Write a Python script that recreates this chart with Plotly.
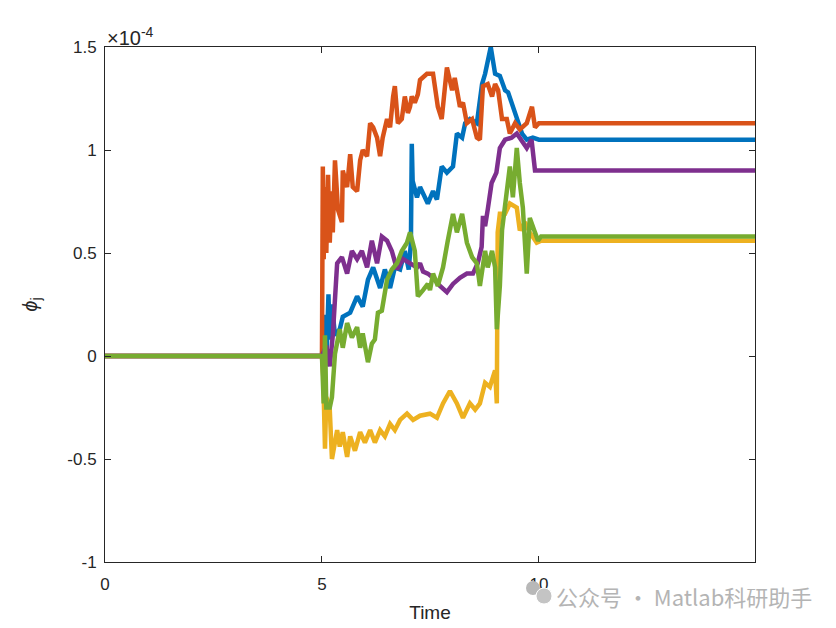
"""phi_j vs time, five sample paths (MATLAB default colour order)."""

import plotly.graph_objects as go

# values are in units of 1e-4
t_blue = [0, 5.0, 5.05, 5.1, 5.15, 5.18, 5.23, 5.3, 5.41, 5.48, 5.65, 5.81, 5.94, 6.06,
          6.18, 6.34, 6.45, 6.57, 6.68, 6.8, 6.91, 7.0, 7.05, 7.07, 7.09, 7.19, 7.26,
          7.37, 7.44, 7.56, 7.65, 7.76, 7.88, 8.02, 8.11, 8.23, 8.3, 8.41, 8.57, 8.69,
          8.76, 8.89, 8.99, 9.1, 9.22, 9.29, 9.4, 9.49, 9.61, 9.72, 9.86, 10.0, 15.0]
v_blue = [0, 0, 0.2, -0.05, 0.3, 0.08, 0.25, 0.1, 0.13, 0.19, 0.21, 0.29, 0.24, 0.37,
          0.43, 0.33, 0.42, 0.33, 0.43, 0.42, 0.51, 0.42, 0.55, 1.03, 0.85, 0.77, 0.82,
          0.77, 0.74, 0.8, 0.76, 0.92, 0.89, 0.92, 1.08, 1.06, 1.13, 1.15, 1.13, 1.32,
          1.37, 1.5, 1.37, 1.36, 1.29, 1.28, 1.21, 1.16, 1.08, 1.05, 1.06, 1.05, 1.05]

t_orange = [0, 5.0, 5.02, 5.04, 5.07, 5.1, 5.14, 5.18, 5.22, 5.25, 5.3, 5.37, 5.46, 5.48,
            5.58, 5.65, 5.71, 5.81, 5.88, 5.94, 6.04, 6.11, 6.18, 6.27, 6.34, 6.4, 6.5,
            6.57, 6.64, 6.68, 6.75, 6.84, 6.91, 6.98, 7.03, 7.07, 7.14, 7.21, 7.26, 7.42,
            7.56, 7.67, 7.76, 7.88, 8.0, 8.06, 8.18, 8.25, 8.34, 8.46, 8.57, 8.64, 8.71,
            8.82, 8.92, 8.99, 9.06, 9.15, 9.26, 9.33, 9.45, 9.56, 9.72, 9.84, 9.91, 10.0, 15.0]
v_orange = [0, 0, 0.92, 0.47, 0.82, 0.5, 0.88, 0.55, 0.8, 0.6, 0.95, 0.71, 0.65, 0.9,
            0.82, 0.98, 0.82, 0.8, 0.95, 1.0, 0.97, 1.13, 1.11, 1.06, 0.97, 1.06, 1.15,
            1.11, 1.26, 1.31, 1.13, 1.15, 1.26, 1.18, 1.21, 1.26, 1.23, 1.27, 1.34, 1.37,
            1.37, 1.21, 1.15, 1.4, 1.29, 1.35, 1.21, 1.23, 1.13, 1.15, 1.06, 1.05, 1.31,
            1.32, 1.26, 1.32, 1.29, 1.15, 1.15, 1.08, 1.13, 1.1, 1.13, 1.21, 1.11, 1.13, 1.13]

t_yellow = [0, 5.0, 5.03, 5.07, 5.1, 5.18, 5.23, 5.35, 5.41, 5.48, 5.58, 5.65, 5.76, 5.88,
            5.99, 6.11, 6.22, 6.34, 6.45, 6.57, 6.68, 6.8, 6.96, 7.1, 7.26, 7.42, 7.49,
            7.65, 7.79, 7.95, 8.11, 8.25, 8.41, 8.53, 8.64, 8.76, 8.87, 8.99, 9.03, 9.05,
            9.1, 9.22, 9.33, 9.49, 9.56, 9.68, 9.79, 9.95, 10.05, 15.0]
v_yellow = [0, 0, -0.1, -0.45, -0.2, -0.26, -0.5, -0.36, -0.44, -0.37, -0.49, -0.39, -0.46,
            -0.37, -0.42, -0.36, -0.42, -0.36, -0.39, -0.33, -0.36, -0.31, -0.28, -0.31,
            -0.29, -0.28, -0.28, -0.3, -0.23, -0.17, -0.23, -0.3, -0.23, -0.26, -0.23,
            -0.13, -0.15, -0.07, -0.23, 0.6, 0.69, 0.69, 0.74, 0.72, 0.61, 0.65, 0.6, 0.55,
            0.56, 0.56]

t_purple = [0, 5.0, 5.1, 5.18, 5.25, 5.35, 5.46, 5.58, 5.69, 5.81, 5.92, 6.04, 6.15, 6.27,
            6.38, 6.5, 6.61, 6.73, 6.87, 7.03, 7.19, 7.26, 7.33, 7.44, 7.56, 7.72, 7.88,
            8.02, 8.18, 8.34, 8.48, 8.59, 8.68, 8.71, 8.76, 8.82, 8.91, 9.02, 9.1, 9.22,
            9.37, 9.49, 9.6, 9.72, 9.83, 9.91, 15.0]
v_purple = [0, 0, 0.05, -0.05, 0.1, 0.45, 0.48, 0.4, 0.51, 0.47, 0.51, 0.43, 0.56, 0.45,
            0.58, 0.56, 0.51, 0.42, 0.47, 0.45, 0.43, 0.45, 0.41, 0.4, 0.38, 0.34, 0.31,
            0.35, 0.38, 0.4, 0.4, 0.45, 0.53, 0.68, 0.63, 0.71, 0.84, 0.89, 1.01, 1.05,
            1.06, 1.08, 1.05, 1.01, 1.05, 0.9, 0.9]

t_green = [0, 5.0, 5.04, 5.07, 5.1, 5.18, 5.23, 5.3, 5.41, 5.48, 5.58, 5.69, 5.81, 5.88,
           5.94, 6.06, 6.15, 6.22, 6.29, 6.38, 6.5, 6.61, 6.73, 6.84, 6.96, 7.03, 7.14,
           7.21, 7.33, 7.44, 7.49, 7.56, 7.67, 7.79, 7.9, 8.02, 8.11, 8.23, 8.34, 8.46,
           8.57, 8.64, 8.76, 8.82, 8.92, 8.99, 9.03, 9.1, 9.15, 9.22, 9.29, 9.33, 9.4,
           9.49, 9.56, 9.63, 9.72, 9.79, 9.91, 9.98, 10.05, 15.0]
v_green = [0, 0, -0.23, 0.1, -0.25, -0.25, -0.2, 0.01, 0.13, 0.04, 0.16, 0.09, 0.14, 0.04,
           0.11, -0.03, 0.06, 0.08, 0.21, 0.22, 0.37, 0.42, 0.45, 0.51, 0.55, 0.6, 0.51,
           0.29, 0.32, 0.35, 0.32, 0.4, 0.34, 0.43, 0.56, 0.69, 0.6, 0.69, 0.55, 0.48,
           0.45, 0.34, 0.51, 0.43, 0.51, 0.43, 0.13, 0.34, 0.61, 0.74, 0.87, 0.92, 0.77,
           1.01, 0.84, 0.72, 0.4, 0.67, 0.6, 0.56, 0.58, 0.58]

series = [
    (t_blue, v_blue, "#0072BD"),
    (t_orange, v_orange, "#D95319"),
    (t_yellow, v_yellow, "#EDB120"),
    (t_purple, v_purple, "#7E2F8E"),
    (t_green, v_green, "#77AC30"),
]

x_ticks = [0, 5, 10]
y_ticks = [-1, -0.5, 0, 0.5, 1, 1.5]
y_tick_text = ["-1", "-0.5", "0", "0.5", "1", "1.5"]

_AX = "#262626"
_FONT = "Liberation Sans, Arial, sans-serif"

fig = go.Figure()
for t, v, c in series:
    fig.add_trace(go.Scatter(x=t, y=v, mode="lines",
                             line=dict(color=c, width=4.5), showlegend=False))

axis_common = dict(showline=True, linecolor=_AX, linewidth=1, mirror="ticks",
                   ticks="inside", ticklen=6, tickcolor=_AX, showgrid=False,
                   zeroline=False, tickfont=dict(size=17, color=_AX, family=_FONT))

# the page body adds an 8px offset, so margins are trimmed by 8 on left/top
fig.update_layout(
    width=836, height=628,
    margin=dict(l=97, r=89, t=39, b=74),
    paper_bgcolor="white", plot_bgcolor="white",
    font=dict(family=_FONT, color=_AX),
    xaxis=dict(range=[0, 14.98], tickvals=x_ticks, ticklabelstandoff=7,
               title=dict(text="Time", font=dict(size=19, color=_AX), standoff=12),
               **axis_common),
    yaxis=dict(range=[-1, 1.5], tickvals=y_ticks, ticktext=y_tick_text,
               ticklabelstandoff=4,
               title=dict(text="<i>ϕ</i><sub>j</sub>", font=dict(size=20, color=_AX),
                          standoff=24),
               **axis_common),
)

fig.add_annotation(x=0, y=1, xref="paper", yref="paper", xanchor="left", yanchor="bottom",
                   text="×10<sup>-4</sup>", showarrow=False, yshift=-4,
                   font=dict(size=20, color=_AX))

# watermark
fig.add_shape(type="circle", xref="paper", yref="paper", x0=0.6477, x1=0.6692,
              y0=-0.0641, y1=-0.0369, fillcolor="#b8b8b8", line_width=0)
fig.add_shape(type="circle", xref="paper", yref="paper", x0=0.6631, x1=0.6877,
              y0=-0.0816, y1=-0.0505, fillcolor="#c4c4c4", line=dict(color="white", width=1))
fig.add_annotation(x=0.69, y=-0.066, xref="paper", yref="paper", xanchor="left",
                   yanchor="middle", text="公众号 · Matlab科研助手", showarrow=False,
                   font=dict(size=22, color="#b4b4b4", family="Noto Sans CJK SC"))

fig.write_html("out.html")
